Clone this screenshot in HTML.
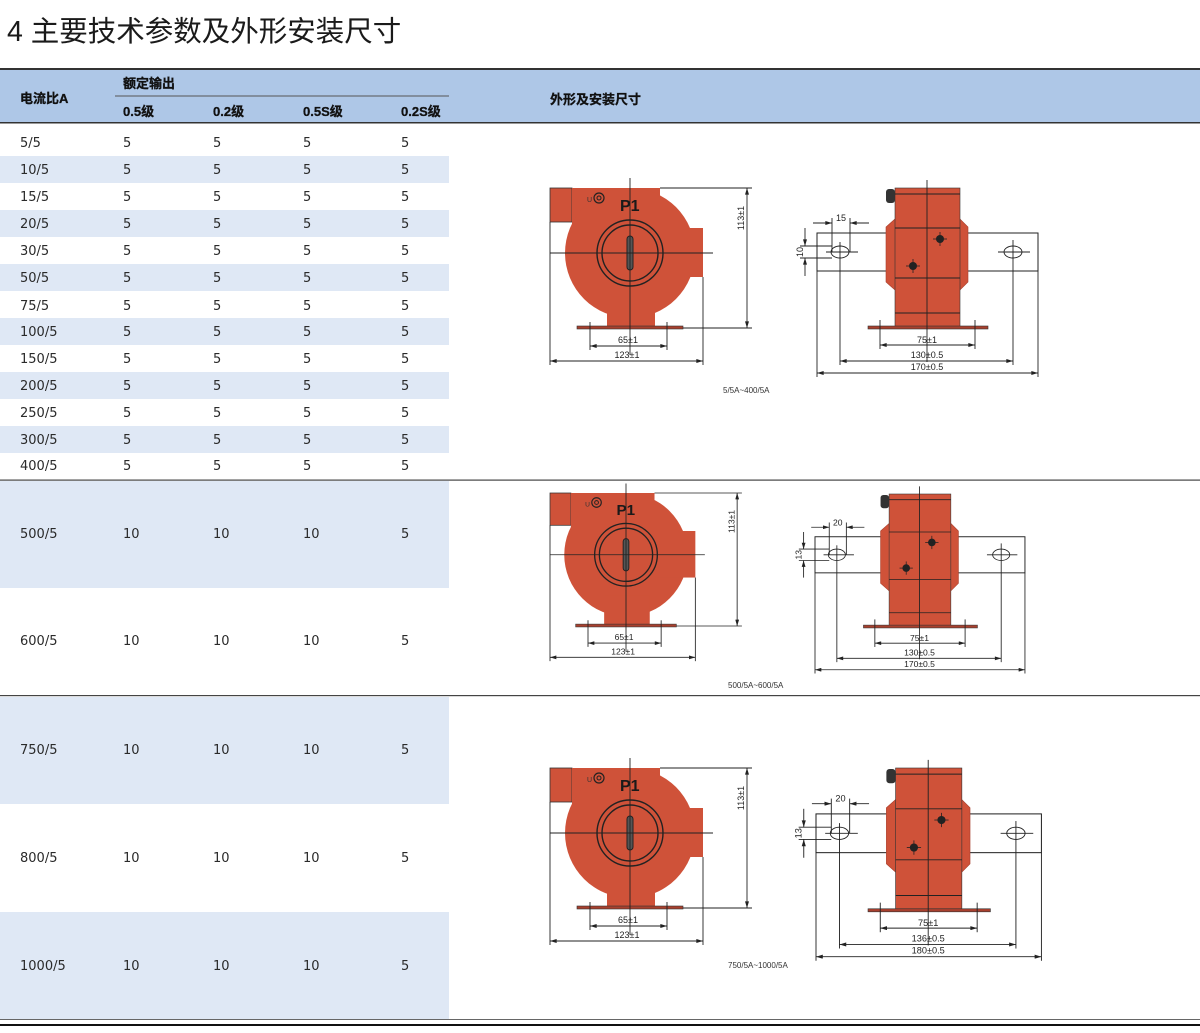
<!DOCTYPE html>
<html><head><meta charset="utf-8"><style>
html,body{margin:0;padding:0;background:#fff;}
svg{display:block;}
.t{font-family:"DejaVu Sans","Noto Sans CJK SC",sans-serif;font-size:13px;fill:#2a2a2a;}
.h{font-family:"Liberation Sans","Noto Sans CJK SC",sans-serif;font-size:13px;font-weight:bold;fill:#111;stroke:#111;stroke-width:0.3;}
.d{font-family:"Liberation Sans",sans-serif;font-size:9px;fill:#222;text-anchor:middle;}
.cap{font-family:"Liberation Sans",sans-serif;font-size:8px;fill:#333;}
.p1{font-family:'Liberation Sans',sans-serif;font-size:16px;font-weight:bold;fill:#1a1a1a;}
</style></head><body>
<svg width="1200" height="1033" viewBox="0 0 1200 1033" xmlns="http://www.w3.org/2000/svg">
<defs>
<marker id="a" viewBox="0 0 10 6" refX="10" refY="3" markerWidth="7" markerHeight="4" orient="auto-start-reverse" markerUnits="userSpaceOnUse"><path d="M0,0 L10,3 L0,6 z" fill="#222"/></marker>
<g id="L">
 <g fill="#cf5239">
  <rect x="550" y="188" width="22" height="34" stroke="#333" stroke-width="0.8"/>
  <rect x="572" y="188" width="88" height="44"/>
  <circle cx="630" cy="253" r="65"/>
  <rect x="660" y="228" width="43" height="49"/>
  <rect x="607" y="296" width="48" height="32"/>
 </g>
 <rect x="577" y="326" width="106" height="3" fill="#a8402e" stroke="#333" stroke-width="0.6"/>
 <circle cx="630" cy="253" r="33" fill="none" stroke="#222" stroke-width="1.4"/>
 <circle cx="630" cy="253" r="28" fill="none" stroke="#222" stroke-width="1.4"/>
 <rect x="627" y="236" width="6" height="34" rx="3" fill="#555" stroke="#222"/>
 <circle cx="599" cy="198" r="5" fill="none" stroke="#222" stroke-width="1.2"/>
 <circle cx="599" cy="198" r="2" fill="none" stroke="#222" stroke-width="1"/>
 <g stroke="#222" stroke-width="0.9" fill="none">
  <line x1="630" y1="178" x2="630" y2="355"/>
  <line x1="550" y1="253" x2="713" y2="253"/>
  <line x1="660" y1="188" x2="752" y2="188"/>
  <line x1="683" y1="328" x2="752" y2="328"/>
  <line x1="747" y1="188" x2="747" y2="328" marker-start="url(#a)" marker-end="url(#a)"/>
  <line x1="590" y1="322" x2="590" y2="350"/>
  <line x1="667" y1="322" x2="667" y2="350"/>
  <line x1="550" y1="222" x2="550" y2="365"/>
  <line x1="703" y1="277" x2="703" y2="365"/>
  <line x1="590" y1="346" x2="667" y2="346" marker-start="url(#a)" marker-end="url(#a)"/>
  <line x1="550" y1="361" x2="703" y2="361" marker-start="url(#a)" marker-end="url(#a)"/>
 </g>
</g>
<g id="R">
 <rect x="817" y="233" width="221" height="38" fill="#fff" stroke="#222" stroke-width="1"/>
 <polygon points="895,219 886,227 886,282 895,290 960,290 968,282 968,227 960,219" fill="#cf5239" stroke="#a8402e" stroke-width="0.6"/>
 <rect x="895" y="188" width="65" height="139" fill="#cf5239" stroke="#333" stroke-width="0.6"/>
 <rect x="886" y="189" width="9" height="14" rx="3" fill="#333"/>
 <rect x="868" y="326" width="120" height="3" fill="#a8402e" stroke="#333" stroke-width="0.6"/>
 <g stroke="#222" stroke-width="0.9" fill="none">
  <line x1="895" y1="194" x2="960" y2="194"/>
  <line x1="895" y1="228" x2="960" y2="228"/>
  <line x1="895" y1="278" x2="960" y2="278"/>
  <line x1="895" y1="313" x2="960" y2="313"/>
  <line x1="927" y1="180" x2="927" y2="362"/>
  <ellipse cx="840" cy="252" rx="9" ry="6"/>
  <ellipse cx="1013" cy="252" rx="9" ry="6"/>
  <line x1="826" y1="252" x2="858" y2="252"/>
  <line x1="998" y1="252" x2="1030" y2="252"/>
  <line x1="840" y1="242" x2="840" y2="365"/>
  <line x1="1013" y1="240" x2="1013" y2="365"/>
  <line x1="800" y1="246" x2="832" y2="246"/>
  <line x1="800" y1="258" x2="832" y2="258"/>
  <line x1="805" y1="228" x2="805" y2="246" marker-end="url(#a)"/>
  <line x1="805" y1="276" x2="805" y2="258" marker-end="url(#a)"/>
  <line x1="832" y1="218" x2="832" y2="252"/>
  <line x1="850" y1="218" x2="850" y2="252"/>
  <line x1="813" y1="223" x2="832" y2="223" marker-end="url(#a)"/>
  <line x1="869" y1="223" x2="850" y2="223" marker-end="url(#a)"/>
  <line x1="880" y1="320" x2="880" y2="349"/>
  <line x1="975" y1="320" x2="975" y2="349"/>
  <line x1="817" y1="271" x2="817" y2="377"/>
  <line x1="1038" y1="271" x2="1038" y2="377"/>
  <line x1="880" y1="345" x2="975" y2="345" marker-start="url(#a)" marker-end="url(#a)"/>
  <line x1="840" y1="361" x2="1013" y2="361" marker-start="url(#a)" marker-end="url(#a)"/>
  <line x1="817" y1="373" x2="1038" y2="373" marker-start="url(#a)" marker-end="url(#a)"/>
 </g>
 <g fill="#222">
  <circle cx="940" cy="239" r="4"/><circle cx="913" cy="266" r="4"/>
 </g>
 <g stroke="#222" stroke-width="0.8">
  <line x1="933" y1="239" x2="947" y2="239"/><line x1="940" y1="232" x2="940" y2="246"/>
  <line x1="906" y1="266" x2="920" y2="266"/><line x1="913" y1="259" x2="913" y2="273"/>
 </g>
</g>
</defs>

<text x="7" y="41" style="font-family:'Liberation Sans','Noto Sans CJK SC',sans-serif;font-size:28.5px;fill:#1a1a1a;">4 主要技术参数及外形安装尺寸</text>

<rect x="0" y="68" width="1200" height="2" fill="#333"/>
<rect x="0" y="70" width="1200" height="52" fill="#aec7e7"/>
<rect x="0" y="122" width="1200" height="1.5" fill="#333"/>
<rect x="115" y="95.5" width="334" height="1" fill="#555"/>
<text class="h" x="20" y="103">电流比A</text>
<text class="h" x="123" y="88">额定输出</text>
<text class="h" x="123" y="116">0.5级</text>
<text class="h" x="213" y="116">0.2级</text>
<text class="h" x="303" y="116">0.5S级</text>
<text class="h" x="401" y="116">0.2S级</text>
<text class="h" x="550" y="104">外形及安装尺寸</text>

<g fill="#dfe8f5">
 <rect x="0" y="156" width="449" height="27"/>
 <rect x="0" y="210" width="449" height="27"/>
 <rect x="0" y="264" width="449" height="27"/>
 <rect x="0" y="318" width="449" height="27"/>
 <rect x="0" y="372" width="449" height="27"/>
 <rect x="0" y="426" width="449" height="27"/>
 <rect x="0" y="481" width="449" height="107"/>
 <rect x="0" y="697" width="449" height="107"/>
 <rect x="0" y="912" width="449" height="107"/>
</g>
<rect x="0" y="479.5" width="1200" height="1.2" fill="#444"/>
<rect x="0" y="695" width="1200" height="1.2" fill="#444"/>
<rect x="0" y="1019" width="1200" height="1" fill="#666"/>
<rect x="0" y="1024" width="1200" height="2" fill="#111"/>

<g class="t">
 <text x="20" y="147">5/5</text><text x="123" y="147">5</text><text x="213" y="147">5</text><text x="303" y="147">5</text><text x="401" y="147">5</text>
 <text x="20" y="174">10/5</text><text x="123" y="174">5</text><text x="213" y="174">5</text><text x="303" y="174">5</text><text x="401" y="174">5</text>
 <text x="20" y="201">15/5</text><text x="123" y="201">5</text><text x="213" y="201">5</text><text x="303" y="201">5</text><text x="401" y="201">5</text>
 <text x="20" y="228">20/5</text><text x="123" y="228">5</text><text x="213" y="228">5</text><text x="303" y="228">5</text><text x="401" y="228">5</text>
 <text x="20" y="255">30/5</text><text x="123" y="255">5</text><text x="213" y="255">5</text><text x="303" y="255">5</text><text x="401" y="255">5</text>
 <text x="20" y="282">50/5</text><text x="123" y="282">5</text><text x="213" y="282">5</text><text x="303" y="282">5</text><text x="401" y="282">5</text>
 <text x="20" y="310">75/5</text><text x="123" y="310">5</text><text x="213" y="310">5</text><text x="303" y="310">5</text><text x="401" y="310">5</text>
 <text x="20" y="336">100/5</text><text x="123" y="336">5</text><text x="213" y="336">5</text><text x="303" y="336">5</text><text x="401" y="336">5</text>
 <text x="20" y="363">150/5</text><text x="123" y="363">5</text><text x="213" y="363">5</text><text x="303" y="363">5</text><text x="401" y="363">5</text>
 <text x="20" y="390">200/5</text><text x="123" y="390">5</text><text x="213" y="390">5</text><text x="303" y="390">5</text><text x="401" y="390">5</text>
 <text x="20" y="417">250/5</text><text x="123" y="417">5</text><text x="213" y="417">5</text><text x="303" y="417">5</text><text x="401" y="417">5</text>
 <text x="20" y="444">300/5</text><text x="123" y="444">5</text><text x="213" y="444">5</text><text x="303" y="444">5</text><text x="401" y="444">5</text>
 <text x="20" y="470">400/5</text><text x="123" y="470">5</text><text x="213" y="470">5</text><text x="303" y="470">5</text><text x="401" y="470">5</text>
 <text x="20" y="538">500/5</text><text x="123" y="538">10</text><text x="213" y="538">10</text><text x="303" y="538">10</text><text x="401" y="538">5</text>
 <text x="20" y="645">600/5</text><text x="123" y="645">10</text><text x="213" y="645">10</text><text x="303" y="645">10</text><text x="401" y="645">5</text>
 <text x="20" y="754">750/5</text><text x="123" y="754">10</text><text x="213" y="754">10</text><text x="303" y="754">10</text><text x="401" y="754">5</text>
 <text x="20" y="862">800/5</text><text x="123" y="862">10</text><text x="213" y="862">10</text><text x="303" y="862">10</text><text x="401" y="862">5</text>
 <text x="20" y="970">1000/5</text><text x="123" y="970">10</text><text x="213" y="970">10</text><text x="303" y="970">10</text><text x="401" y="970">5</text>
</g>

<g>
 <use href="#L"/>
 <text x="587" y="202" style="font-family:'Liberation Sans',sans-serif;font-size:7px;fill:#333;">U</text>
 <text class="p1" x="620" y="211">P1</text>
 <text class="d" transform="translate(744,218) rotate(-90)">113±1</text>
 <text class="d" x="628" y="343">65±1</text>
 <text class="d" x="627" y="358">123±1</text>
</g>
<g>
 <use href="#R"/>
 <text class="d" x="841" y="221">15</text>
 <text class="d" transform="translate(803,252) rotate(-90)">10</text>
 <text class="d" x="927" y="343">75±1</text>
 <text class="d" x="927" y="358">130±0.5</text>
 <text class="d" x="927" y="370">170±0.5</text>
</g>
<text class="cap" x="723" y="393">5/5A~400/5A</text>

<g transform="translate(550,493) scale(0.95) translate(-550,-188)">
 <use href="#L"/>
 <text x="587" y="202" style="font-family:'Liberation Sans',sans-serif;font-size:7px;fill:#333;">U</text>
 <text class="p1" x="620" y="211">P1</text>
 <text class="d" transform="translate(744,218) rotate(-90)">113±1</text>
 <text class="d" x="628" y="343">65±1</text>
 <text class="d" x="627" y="358">123±1</text>
</g>
<g transform="translate(815,494) scale(0.95) translate(-817,-188)">
 <use href="#R"/>
 <text class="d" x="841" y="221">20</text>
 <text class="d" transform="translate(803,252) rotate(-90)">13</text>
 <text class="d" x="927" y="343">75±1</text>
 <text class="d" x="927" y="358">130±0.5</text>
 <text class="d" x="927" y="370">170±0.5</text>
</g>
<text class="cap" x="728" y="688">500/5A~600/5A</text>

<g transform="translate(550,768) scale(1.0) translate(-550,-188)">
 <use href="#L"/>
 <text x="587" y="202" style="font-family:'Liberation Sans',sans-serif;font-size:7px;fill:#333;">U</text>
 <text class="p1" x="620" y="211">P1</text>
 <text class="d" transform="translate(744,218) rotate(-90)">113±1</text>
 <text class="d" x="628" y="343">65±1</text>
 <text class="d" x="627" y="358">123±1</text>
</g>
<g transform="translate(816,768) scale(1.02) translate(-817,-188)">
 <use href="#R"/>
 <text class="d" x="841" y="221">20</text>
 <text class="d" transform="translate(803,252) rotate(-90)">13</text>
 <text class="d" x="927" y="343">75±1</text>
 <text class="d" x="927" y="358">136±0.5</text>
 <text class="d" x="927" y="370">180±0.5</text>
</g>
<text class="cap" x="728" y="968">750/5A~1000/5A</text>
</svg>
</body></html>
